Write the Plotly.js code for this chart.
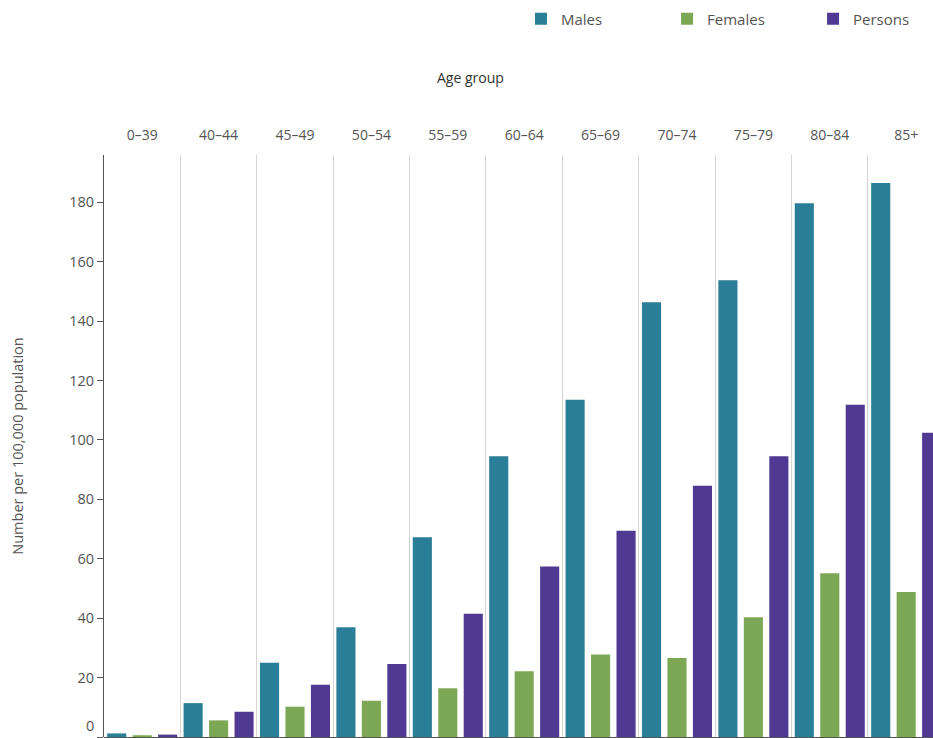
<!DOCTYPE html>
<html>
<head>
<meta charset="utf-8">
<script src="https://cdn.plot.ly/plotly-3.0.1.min.js"></script>
<style>
html,body{margin:0;padding:0;overflow:hidden;background:#fff;}
#chart{width:933px;height:738px;}
</style>
</head>
<body>
<div id="chart"></div>
<script>
const ageGroups = ["0–39","40–44","45–49","50–54","55–59","60–64","65–69","70–74","75–79","80–84","85+"];
const males   = [1.2, 11.4, 25.0, 36.9, 67.2, 94.5, 113.5, 146.3, 153.7, 179.7, 186.5];
const females = [0.6, 5.6, 10.2, 12.2, 16.4, 22.1, 27.8, 26.6, 40.3, 55.1, 48.8];
const persons = [0.8, 8.5, 17.6, 24.6, 41.5, 57.4, 69.4, 84.6, 94.5, 111.8, 102.4];
const yTicks = [0, 20, 40, 60, 80, 100, 120, 140, 160, 180];

const FONT = "Open Sans, Lato, sans-serif";
const GREY = "#555555";

const series = [
  {name: "Males", y: males, color: "#2a7e97", legend: "legend", lx: 0.5030},
  {name: "Females", y: females, color: "#7ca856", legend: "legend2", lx: 0.6792},
  {name: "Persons", y: persons, color: "#4f3992", legend: "legend3", lx: 0.8553}
];

const data = series.map(s => ({
  type: "bar",
  name: s.name,
  x: ageGroups,
  y: s.y,
  legend: s.legend,
  marker: {color: s.color, line: {width: 0}},
  hoverinfo: "x+y+name"
}));

function legendAt(xPos) {
  return {
    orientation: "h",
    x: xPos, xanchor: "left",
    y: 1.2337, yanchor: "middle",
    font: {family: FONT, size: 15, color: GREY},
    itemwidth: 30,
    bgcolor: "rgba(0,0,0,0)"
  };
}

const layout = {
  width: 933,
  height: 738,
  margin: {l: 104, r: 0, t: 155, b: 1, pad: 0, autoexpand: false},
  paper_bgcolor: "#fff",
  plot_bgcolor: "#fff",
  font: {family: FONT, size: 13, color: GREY},
  barmode: "group",
  bargap: 0,
  bargroupgap: 0.25,
  showlegend: true,
  legend: legendAt(series[0].lx),
  legend2: legendAt(series[1].lx),
  legend3: legendAt(series[2].lx),
  xaxis: {
    type: "category",
    side: "top",
    range: [-0.5, 10.351],
    tickson: "boundaries",
    ticks: "",
    showgrid: true,
    gridcolor: "#d4d4d4",
    gridwidth: 1,
    showline: false,
    zeroline: false,
    ticklabelstandoff: 11,
    tickfont: {family: FONT, size: 14, color: GREY},
    automargin: false,
    fixedrange: true
  },
  yaxis: {
    range: [0, 195.9],
    tickvals: yTicks,
    ticktext: yTicks.map(v => v === 0 ? "" : String(v)),
    ticks: "outside",
    ticklen: 6,
    tickcolor: "#555",
    tickwidth: 1,
    showline: true,
    linecolor: "#555",
    linewidth: 1,
    showgrid: false,
    zeroline: true,
    zerolinecolor: "#555",
    zerolinewidth: 1,
    tickfont: {family: FONT, size: 14.5, color: GREY},
    title: {text: "Number per 100,000 population", font: {family: FONT, size: 14.5, color: GREY}, standoff: 42},
    automargin: false,
    fixedrange: true
  },
  annotations: [
    {
      text: "Age group",
      xref: "paper", yref: "paper",
      x: 0.4415, y: 1.1328,
      xanchor: "center", yanchor: "middle",
      showarrow: false,
      font: {family: FONT, size: 14, color: "#333"}
    },
    {
      text: String(yTicks[0]),
      xref: "paper", yref: "y",
      x: 0, y: yTicks[0],
      xanchor: "right", yanchor: "bottom",
      xshift: -8, yshift: 0,
      showarrow: false,
      font: {family: FONT, size: 14.5, color: GREY}
    }
  ]
};

Plotly.newPlot("chart", data, layout, {displayModeBar: false, staticPlot: true});
</script>
</body>
</html>
